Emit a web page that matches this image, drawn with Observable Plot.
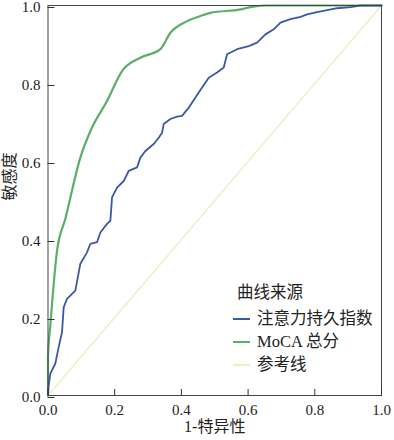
<!DOCTYPE html>
<html><head><meta charset="utf-8">
<script src="https://cdn.jsdelivr.net/npm/d3@7"></script>
<script src="https://cdn.jsdelivr.net/npm/@observablehq/plot@0.6"></script>
<style>
body{margin:0;background:#fff;}
#wrap{position:relative;width:394px;height:440px;font-family:'Liberation Serif','Noto Sans CJK SC',serif;}
#legend{position:absolute;left:233px;top:281px;font-size:16.5px;color:#222;line-height:23px;}
#legend .row{display:flex;align-items:center;white-space:nowrap;}
#legend .sw{width:17px;height:2px;margin-right:7px;}
</style></head><body>
<div id="wrap"></div>
<script>
const seriesNames = ["注意力持久指数", "MoCA 总分", "参考线"];
const seriesColors = ["#3d57a7", "#5aae6a", "#eaf0c6"];
const xTicks = [0, 0.2, 0.4, 0.6, 0.8, 1.0];
const yTicks = [0, 0.2, 0.4, 0.6, 0.8, 1.0];

const attnFpr = [0,0.002,0.007,0.022,0.032,0.042,0.047,0.057,0.082,0.097,0.117,0.127,0.147,0.157,0.177,0.187,0.192,0.207,0.227,0.242,0.267,0.277,0.292,0.317,0.332,0.342,0.347,0.367,0.387,0.402,0.422,0.442,0.462,0.482,0.507,0.527,0.537,0.567,0.602,0.627,0.652,0.677,0.697,0.727,0.757,0.777,0.807,0.837,0.867,0.907,0.937,1.0];
const attnTpr = [0,0.026,0.056,0.082,0.124,0.162,0.226,0.248,0.269,0.338,0.367,0.389,0.393,0.418,0.44,0.448,0.508,0.533,0.55,0.576,0.585,0.61,0.627,0.645,0.661,0.674,0.696,0.709,0.715,0.717,0.738,0.764,0.79,0.815,0.828,0.841,0.875,0.888,0.896,0.905,0.926,0.939,0.956,0.965,0.971,0.977,0.983,0.988,0.993,0.996,1.0,1.0];

const mocaFpr = [0,0,0.007,0.027,0.052,0.097,0.132,0.177,0.222,0.277,0.337,0.367,0.417,0.457,0.487,0.577,0.607,0.65,1.0];
const mocaTpr = [0,0.1,0.18,0.37,0.453,0.61,0.687,0.755,0.832,0.866,0.888,0.93,0.96,0.973,0.981,0.99,0.996,1.0,1.0];

const refFpr = [0, 1];
const refTpr = [0, 1];

const rows = [];
attnFpr.forEach((x,i)=>rows.push({s:seriesNames[0],x,y:attnTpr[i]}));
mocaFpr.forEach((x,i)=>rows.push({s:seriesNames[1],x,y:mocaTpr[i]}));
refFpr.forEach((x,i)=>rows.push({s:seriesNames[2],x,y:refTpr[i]}));

const font = "'Liberation Serif','Noto Sans CJK SC',serif";
const fmt = d3.format(".1f");
const chart = Plot.plot({
  width: 394, height: 440,
  marginLeft: 47.5, marginRight: 13, marginTop: 5, marginBottom: 45,
  style: {fontFamily: font, fontSize: "15px", color: "#222", background: "#fff"},
  x: {domain: [0,1], label: null},
  y: {domain: [0,1], label: null},
  color: {domain: seriesNames, range: seriesColors},
  marks: [
    Plot.line(rows.filter(d=>d.s===seriesNames[2]), {x:"x", y:"y", stroke:"s", strokeWidth:1.3}),
    Plot.line(rows.filter(d=>d.s===seriesNames[1]), {x:"x", y:"y", stroke:"s", strokeWidth:2.2, curve:"monotone-x"}),
    Plot.line(rows.filter(d=>d.s===seriesNames[0]), {x:"x", y:"y", stroke:"s", strokeWidth:1.8}),
    Plot.frame({stroke:"#444", strokeWidth:1}),
    Plot.axisX({ticks:xTicks, tickFormat:fmt, tickSize:-6, tickPadding:15, label:null, fontSize:15, stroke:"#333"}),
    Plot.axisY({ticks:yTicks, tickFormat:fmt, tickSize:-7, tickPadding:14.5, dy:2, label:null, fontSize:15, stroke:"#333"}),
    Plot.text(["1-特异性"], {frameAnchor:"bottom", dy:36, fontSize:16, text:d=>d}),
    Plot.text(["敏感度"], {frameAnchor:"left", dx:-38, rotate:-90, fontSize:16, text:d=>d})
  ]
});
const wrap = document.getElementById("wrap");
wrap.appendChild(chart);
const lg = document.createElement("div");
lg.id = "legend";
lg.innerHTML = `<div class="row" style="margin-left:4px;margin-bottom:3px">曲线来源</div>` +
  seriesNames.map((n,i)=>`<div class="row"><span class="sw" style="background:${seriesColors[i]}"></span>${n}</div>`).join("");
wrap.appendChild(lg);
</script>
</body></html>
